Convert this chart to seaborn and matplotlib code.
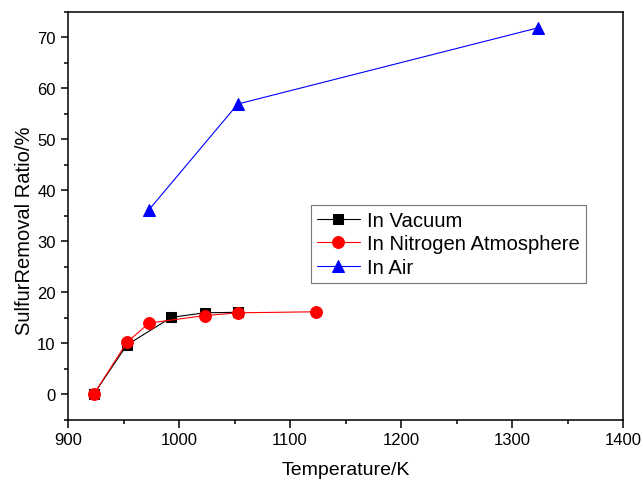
import matplotlib
matplotlib.use("Agg")
import matplotlib.pyplot as plt
import seaborn as sns
from matplotlib.ticker import MultipleLocator

# dados
vac_T = [923, 953, 993, 1023, 1053]
vac_r = [0, 9.7, 15.1, 16.0, 16.1]
n2_T = [923, 953, 973, 1023, 1053, 1123]
n2_r = [0, 10.2, 14.0, 15.45, 16.0, 16.2]
air_T = [973, 1053, 1323]
air_r = [36.2, 56.9, 71.8]

sns.set_style("ticks")
plt.rcParams['font.family'] = ['Liberation Sans', 'DejaVu Sans']
plt.rcParams['text.color'] = 'black'
plt.rcParams['axes.labelcolor'] = 'black'
plt.rcParams['xtick.color'] = 'black'
plt.rcParams['ytick.color'] = 'black'

fig = plt.figure(figsize=(6.43, 4.81), dpi=100)
ax = fig.add_axes([0.1058, 0.1247, 0.8631, 0.8491])

sns.lineplot(x=vac_T, y=vac_r, color="black", marker="s", markersize=7,
             markeredgecolor="black", linewidth=0.8, label="In Vacuum", ax=ax)
sns.lineplot(x=n2_T, y=n2_r, color="red", marker="o", markersize=8.5,
             markeredgecolor="red", linewidth=0.8, label="In Nitrogen Atmosphere", ax=ax)
sns.lineplot(x=air_T, y=air_r, color="blue", marker="^", markersize=9,
             markeredgecolor="blue", linewidth=0.8, label="In Air", ax=ax)

ax.set_xlim(900, 1400)
ax.set_ylim(-5, 75)
ax.xaxis.set_major_locator(MultipleLocator(100))
ax.xaxis.set_minor_locator(MultipleLocator(50))
ax.yaxis.set_major_locator(MultipleLocator(10))
ax.yaxis.set_minor_locator(MultipleLocator(5))
ax.tick_params(which="major", length=5.4, width=1.1, labelsize=12, direction="out")
ax.tick_params(which="minor", length=3, width=1.1, direction="out")
for s in ax.spines.values():
    s.set_linewidth(1.1)
    s.set_color("black")

ax.set_xlabel("Temperature/K", fontsize=14, labelpad=10)
ax.set_ylabel("SulfurRemoval Ratio/%", fontsize=14.5)
ax.yaxis.set_label_coords(-0.062, 0.465)

leg = ax.legend(loc="upper left", bbox_to_anchor=(0.438, 0.527), fontsize=14.6,
                frameon=True, fancybox=False, edgecolor="#555555", borderaxespad=0,
                handlelength=2.1, labelspacing=0.22, borderpad=0.3, handletextpad=0.35)
leg.get_frame().set_linewidth(0.8)

fig.savefig("out.png", dpi=100)
